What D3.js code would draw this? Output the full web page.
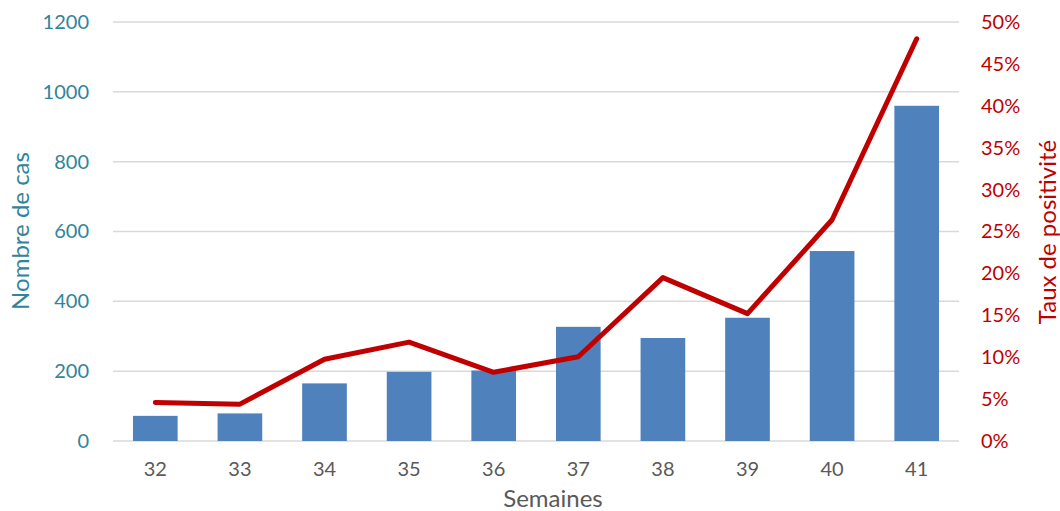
<!DOCTYPE html>
<html><head><meta charset="utf-8">
<script src="https://cdn.jsdelivr.net/npm/d3@7"></script>
<style>body{margin:0;background:#fff}svg{display:block}text{font-family:Lato,"Open Sans",sans-serif}</style>
</head><body><svg id="c" width="1060" height="511"></svg>
<script>
const weeks = ["32","33","34","35","36","37","38","39","40","41"];
const cases = [72, 79, 165, 198, 202, 327, 295, 353, 544, 960];
const positivity = [0.046, 0.044, 0.0975, 0.118, 0.082, 0.1005, 0.195, 0.152, 0.264, 0.48];
const leftTicks = [0, 200, 400, 600, 800, 1000, 1200];
const rightTicks = [0,0.05,0.1,0.15,0.2,0.25,0.3,0.35,0.4,0.45,0.5];

const svg = d3.select("#c");
const L = 113, R = 959, T = 22, B = 441;
const x = d3.scaleBand().domain(weeks).range([L, R]).paddingInner(0.472).paddingOuter(0.236);
const y = d3.scaleLinear().domain([0, 1200]).range([B, T]);
const y2 = d3.scaleLinear().domain([0, 0.5]).range([B, T]);

svg.append("g").selectAll("line").data(leftTicks).join("line")
  .attr("x1", L).attr("x2", R).attr("y1", d => y(d)).attr("y2", d => y(d))
  .attr("stroke", "#D9D9D9").attr("stroke-width", 1.5);

svg.append("g").selectAll("rect").data(weeks).join("rect")
  .attr("x", d => x(d)).attr("width", x.bandwidth())
  .attr("y", (d, i) => y(cases[i])).attr("height", (d, i) => B - y(cases[i]))
  .attr("fill", "#4F81BD");

const line = d3.line().x((d, i) => x(weeks[i]) + x.bandwidth() / 2).y(d => y2(d));
svg.append("path").datum(positivity).attr("d", line)
  .attr("fill", "none").attr("stroke", "#C00000").attr("stroke-width", 5)
  .attr("stroke-linecap", "round").attr("stroke-linejoin", "round");

const la = svg.append("g").attr("transform", `translate(${L},0)`)
  .call(d3.axisLeft(y).tickValues(leftTicks).tickSize(0).tickPadding(24).tickFormat(d3.format("d")));
la.select(".domain").remove();
la.selectAll("text").attr("fill", "#31849B").style("font-size", "20px");

const ra = svg.append("g").attr("transform", `translate(${R},0)`)
  .call(d3.axisRight(y2).tickValues(rightTicks).tickSize(0).tickPadding(22).tickFormat(d3.format(".0%")));
ra.select(".domain").remove();
ra.selectAll("text").attr("fill", "#C00000").style("font-size", "20px");

const ba = svg.append("g").attr("transform", `translate(0,${B})`)
  .call(d3.axisBottom(x).tickSize(0).tickPadding(21));
ba.select(".domain").remove();
ba.selectAll("text").attr("fill", "#595959").style("font-size", "20px");

svg.append("text").attr("transform", "translate(29,231) rotate(-90)")
  .attr("text-anchor", "middle").attr("fill", "#31849B").style("font-size", "24px").text("Nombre de cas");
svg.append("text").attr("transform", "translate(1056,232) rotate(-90)")
  .attr("text-anchor", "middle").attr("fill", "#C00000").style("font-size", "24px").text("Taux de positivité");
svg.append("text").attr("x", 553).attr("y", 507)
  .attr("text-anchor", "middle").attr("fill", "#595959").style("font-size", "24px").text("Semaines");
</script></body></html>
